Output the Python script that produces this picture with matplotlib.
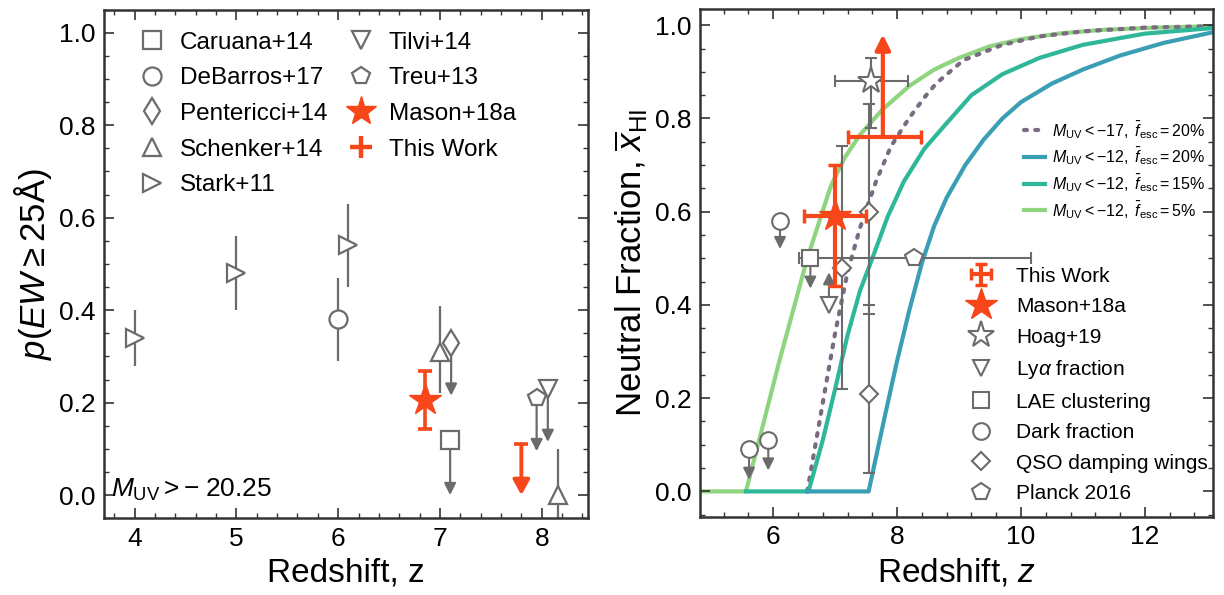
import numpy as np
import matplotlib
matplotlib.use('Agg')
import matplotlib.pyplot as plt
from matplotlib.lines import Line2D
from matplotlib.ticker import MultipleLocator

plt.rcParams['font.family'] = ['Liberation Sans', 'DejaVu Sans']
plt.rcParams['mathtext.fontset'] = 'custom'
plt.rcParams['mathtext.rm'] = 'Liberation Sans'
plt.rcParams['mathtext.it'] = 'Liberation Sans:italic'
plt.rcParams['mathtext.bf'] = 'Liberation Sans:bold'

GRAY = '#6b6b6b'
RED = '#f7461a'
C_DOT = '#7a6a82'
C_T20 = '#3a9fb4'
C_T15 = '#2fb79a'
C_T05 = '#8fd47f'

# ---------------- left panel data: p(EW>=25A) vs z ----------------
stark_z = [4.0, 5.0, 6.1]
stark_p = [0.34, 0.48, 0.54]
stark_lo = [0.06, 0.08, 0.09]
stark_hi = [0.06, 0.08, 0.09]

debarros_z = [6.0]
debarros_p = [0.38]
debarros_err = [0.09]

schenker_z = [7.0, 8.16]
schenker_p = [0.31, 0.0]
schenker_lo = [0.09, 0.10]
schenker_hi = [0.10, 0.10]

pentericci_z = [7.11]
pentericci_p = [0.33]
pentericci_tip = [0.215]

caruana_z = [7.1]
caruana_p = [0.12]
caruana_tip = [0.0]

treu_z = [7.95]
treu_p = [0.21]
treu_tip = [0.095]

tilvi_z = [8.06]
tilvi_p = [0.23]
tilvi_tip = [0.115]

mason_z = [6.85]
mason_p = [0.205]
mason_lo = [0.063]
mason_hi = [0.063]

thiswork_z = [7.8]
thiswork_lim = [0.11]
thiswork_tip = [0.0]

# ---------------- right panel data: neutral fraction vs z ----------------
curve17_f20_z = [6.55, 6.8, 7.0, 7.2, 7.4, 7.66, 7.9, 8.19, 8.44, 8.63, 9.07, 9.7, 10.3, 11.0, 12.0, 13.1]
curve17_f20_x = [0.0, 0.19, 0.34, 0.47, 0.565, 0.665, 0.74, 0.80, 0.845, 0.875, 0.925, 0.958, 0.976, 0.987, 0.995, 0.998]

curve12_f20_z = [6.55, 7.54, 7.8, 8.0, 8.2, 8.4, 8.6, 8.8, 9.1, 9.4, 9.7, 10.0, 10.5, 11.0, 11.6, 12.3, 13.1]
curve12_f20_x = [0.0, 0.0, 0.16, 0.28, 0.39, 0.49, 0.57, 0.63, 0.70, 0.755, 0.80, 0.835, 0.875, 0.905, 0.935, 0.962, 0.985]

curve12_f15_z = [5.56, 6.57, 6.8, 7.0, 7.2, 7.4, 7.6, 7.85, 8.11, 8.44, 8.8, 9.2, 9.7, 10.3, 11.0, 12.0, 13.1]
curve12_f15_x = [0.0, 0.0, 0.11, 0.22, 0.335, 0.43, 0.50, 0.59, 0.665, 0.735, 0.79, 0.85, 0.895, 0.93, 0.958, 0.982, 0.994]

curve12_f05_z = [4.82, 5.56, 6.1, 6.55, 6.93, 7.15, 7.4, 7.77, 8.2, 8.6, 9.0, 9.5, 10.0, 10.6, 11.3, 12.2, 13.1]
curve12_f05_x = [0.0, 0.0, 0.28, 0.50, 0.655, 0.715, 0.765, 0.82, 0.87, 0.905, 0.93, 0.955, 0.97, 0.982, 0.99, 0.995, 0.998]

tw_r_z = [7.77]
tw_r_x = [0.76]
tw_r_zerr_lo = [0.57]
tw_r_zerr_hi = [0.61]
tw_r_tip = [0.98]

mason_r_z = [7.0]
mason_r_x = [0.59]
mason_r_zerr = [0.5]
mason_r_lo = [0.15]
mason_r_hi = [0.11]

hoag_z = [7.58]
hoag_x = [0.88]
hoag_zerr_lo = [0.58]
hoag_zerr_hi = [0.60]
hoag_lo = [0.10]
hoag_hi = [0.05]

lya_z = [6.9]
lya_x = [0.40]
lya_tip = [0.47]

lae_z = [6.6]
lae_x = [0.50]
lae_tip = [0.435]

dark_z = [5.61, 5.92, 6.11]
dark_x = [0.09, 0.11, 0.58]
dark_tip = [0.025, 0.045, 0.52]

qso_z = [7.11, 7.54, 7.54]
qso_x = [0.48, 0.60, 0.21]
qso_lo = [0.26, 0.22, 0.17]
qso_hi = [0.26, 0.23, 0.19]

planck_z = [8.27]
planck_x = [0.50]
planck_zerr_lo = [1.86]
planck_zerr_hi = [1.89]


def arrow(ax, x, y0, y1, color, lw, hl=0.7, hw=0.35, z=2):
    ax.annotate('', xy=(x, y1), xytext=(x, y0),
                arrowprops=dict(arrowstyle=f'-|>,head_length={hl},head_width={hw}',
                                color=color, lw=lw, shrinkA=0, shrinkB=0,
                                mutation_scale=10),
                zorder=z)


def style_axes(ax, xminor, yminor):
    ax.tick_params(which='both', direction='in', top=True, right=True,
                   labelsize=19, color='#333333')
    ax.tick_params(which='major', length=7, width=1.2, pad=6)
    ax.tick_params(which='minor', length=3.5, width=1.0)
    ax.xaxis.set_minor_locator(MultipleLocator(xminor))
    ax.yaxis.set_minor_locator(MultipleLocator(yminor))
    for s in ax.spines.values():
        s.set_linewidth(1.8)
        s.set_color('#333333')


fig = plt.figure(figsize=(12.24, 5.95), dpi=100)
axL = fig.add_axes([0.085, 0.129, 0.395, 0.855])
axR = fig.add_axes([0.572, 0.131, 0.419, 0.854])

# ---------------- left panel ----------------
ms = 13
mk = dict(color=GRAY, mfc='white', mec=GRAY, mew=1.6, ms=ms, ls='none', zorder=3)
ek = dict(fmt='none', ecolor=GRAY, elinewidth=1.6, capsize=0, zorder=2)

axL.errorbar(stark_z, stark_p, yerr=[stark_lo, stark_hi], **ek)
axL.plot(stark_z, stark_p, marker='>', **mk)

axL.errorbar(debarros_z, debarros_p, yerr=[debarros_err, debarros_err], **ek)
axL.plot(debarros_z, debarros_p, marker='o', **mk)

axL.errorbar(schenker_z, schenker_p, yerr=[schenker_lo, schenker_hi], **ek)
axL.plot(schenker_z, schenker_p, marker='^', **mk)

for z, p, t in zip(pentericci_z, pentericci_p, pentericci_tip):
    arrow(axL, z, p, t, GRAY, 1.6)
axL.plot(pentericci_z, pentericci_p, marker='d', **mk)

for z, p, t in zip(caruana_z, caruana_p, caruana_tip):
    arrow(axL, z, p, t, GRAY, 1.6)
axL.plot(caruana_z, caruana_p, marker='s', **mk)

for z, p, t in zip(treu_z, treu_p, treu_tip):
    arrow(axL, z, p, t, GRAY, 1.6)
axL.plot(treu_z, treu_p, marker='p', **mk)

for z, p, t in zip(tilvi_z, tilvi_p, tilvi_tip):
    arrow(axL, z, p, t, GRAY, 1.6)
axL.plot(tilvi_z, tilvi_p, marker='v', **mk)

axL.errorbar(mason_z, mason_p, yerr=[mason_lo, mason_hi], fmt='none', ecolor=RED,
             elinewidth=2.6, capsize=5, capthick=2.6, zorder=4)
axL.plot(mason_z, mason_p, marker='*', color=RED, ms=24, ls='none', mec=RED, zorder=5)

for z, p, t in zip(thiswork_z, thiswork_lim, thiswork_tip):
    arrow(axL, z, p, t, RED, 2.8, hl=0.9, hw=0.5, z=5)
axL.plot(thiswork_z, thiswork_lim, marker='_', color=RED, ms=10, mew=2.6, ls='none', zorder=5)

axL.text(3.77, -0.003, r'$M_{\rm UV} > -\;20.25$', fontsize=19, va='baseline', ha='left')

axL.set_xlim(3.7, 8.45)
axL.set_ylim(-0.05, 1.05)
axL.set_xticks([4, 5, 6, 7, 8])
axL.set_yticks([0.0, 0.2, 0.4, 0.6, 0.8, 1.0])
style_axes(axL, 0.2, 0.05)
axL.set_xlabel('Redshift, z', fontsize=24, labelpad=5)
axL.set_ylabel(r'$p(EW \geq 25\mathrm{Å})$', fontsize=25, labelpad=4)

lk = dict(color=GRAY, mfc='white', mec=GRAY, mew=1.6, ms=ms, ls='none')
handlesL = [
    Line2D([], [], marker='s', **lk),
    Line2D([], [], marker='o', **lk),
    Line2D([], [], marker='d', **lk),
    Line2D([], [], marker='^', **lk),
    Line2D([], [], marker='>', **lk),
    Line2D([], [], marker='v', **lk),
    Line2D([], [], marker='p', **lk),
    Line2D([], [], marker='*', color=RED, ms=22, ls='none'),
    Line2D([], [], marker='+', color=RED, ms=16, mew=3.2, ls='none'),
]
labelsL = ['Caruana+14', 'DeBarros+17', 'Pentericci+14', 'Schenker+14', 'Stark+11',
           'Tilvi+14', 'Treu+13', 'Mason+18a', 'This Work']
axL.legend(handlesL, labelsL, ncol=2, loc='upper left', bbox_to_anchor=(0.043, 0.985),
           frameon=False, fontsize=17.5, handlelength=1.0, handletextpad=0.65,
           columnspacing=0.9, labelspacing=0.56, borderaxespad=0.2)

# ---------------- right panel ----------------
l4, = axR.plot(curve12_f05_z, curve12_f05_x, color=C_T05, lw=3, zorder=1)
l1, = axR.plot(curve17_f20_z, curve17_f20_x, color=C_DOT, lw=3, ls=(0, (0.7, 2.0)),
               dash_capstyle='round', zorder=1)
l3, = axR.plot(curve12_f15_z, curve12_f15_x, color=C_T15, lw=3, zorder=1)
l2, = axR.plot(curve12_f20_z, curve12_f20_x, color=C_T20, lw=3, zorder=1)

mr = 12
mkr = dict(color=GRAY, mfc='white', mec=GRAY, mew=1.5, ls='none', zorder=3)
ekr = dict(fmt='none', ecolor=GRAY, elinewidth=1.5, capsize=4, capthick=1.5, zorder=2)

axR.errorbar(planck_z, planck_x, xerr=[planck_zerr_lo, planck_zerr_hi], **ekr)
axR.plot(planck_z, planck_x, marker='p', ms=mr + 1, **mkr)

axR.errorbar(qso_z, qso_x, yerr=[qso_lo, qso_hi], **ekr)
axR.plot(qso_z, qso_x, marker='D', ms=mr - 3, **mkr)

for z, x, t in zip(dark_z, dark_x, dark_tip):
    arrow(axR, z, x, t, GRAY, 1.5)
axR.plot(dark_z, dark_x, marker='o', ms=mr, **mkr)

for z, x, t in zip(lae_z, lae_x, lae_tip):
    arrow(axR, z, x, t, GRAY, 1.5)
axR.plot(lae_z, lae_x, marker='s', ms=mr, **mkr)

for z, x, t in zip(lya_z, lya_x, lya_tip):
    arrow(axR, z, x, t, GRAY, 1.5)
axR.plot(lya_z, lya_x, marker='v', ms=mr, **mkr)

axR.errorbar(hoag_z, hoag_x, xerr=[hoag_zerr_lo, hoag_zerr_hi], yerr=[hoag_lo, hoag_hi], **ekr)
axR.plot(hoag_z, hoag_x, marker='*', ms=mr + 8, **mkr)

axR.errorbar(mason_r_z, mason_r_x, xerr=[mason_r_zerr, mason_r_zerr], yerr=[mason_r_lo, mason_r_hi],
             fmt='none', ecolor=RED, elinewidth=3, capsize=5, capthick=2.5, zorder=5)
axR.plot(mason_r_z, mason_r_x, marker='*', color=RED, ms=24, ls='none', zorder=6)

axR.errorbar(tw_r_z, tw_r_x, xerr=[tw_r_zerr_lo, tw_r_zerr_hi], fmt='none', ecolor=RED,
             elinewidth=3, capsize=5, capthick=2.5, zorder=5)
for z, x, t in zip(tw_r_z, tw_r_x, tw_r_tip):
    arrow(axR, z, x, t, RED, 3, hl=0.9, hw=0.45, z=5)

axR.set_xlim(4.82, 13.1)
axR.set_ylim(-0.055, 1.035)
axR.set_xticks([6, 8, 10, 12])
axR.set_yticks([0.0, 0.2, 0.4, 0.6, 0.8, 1.0])
style_axes(axR, 0.4, 0.05)
axR.set_xlabel('Redshift, $z$', fontsize=24, labelpad=5)
axR.set_ylabel(r'Neutral Fraction, $\overline{x}_{\rm HI}$', fontsize=25, labelpad=4)

leg1 = axR.legend([l1, l2, l3, l4],
                  [r'$M_{\rm UV} < -17,\ \bar{f}_{\rm esc} = 20\%$',
                   r'$M_{\rm UV} < -12,\ \bar{f}_{\rm esc} = 20\%$',
                   r'$M_{\rm UV} < -12,\ \bar{f}_{\rm esc} = 15\%$',
                   r'$M_{\rm UV} < -12,\ \bar{f}_{\rm esc} = 5\%$'],
                  loc='upper left', bbox_to_anchor=(0.62, 0.796), frameon=False,
                  fontsize=11.5, handlelength=1.3, handletextpad=0.4, labelspacing=0.3,
                  borderaxespad=0.0)
axR.add_artist(leg1)

tw_handle = axR.errorbar([np.nan], [np.nan], xerr=[1], yerr=[1], fmt='none', ecolor=RED,
                         elinewidth=3, capsize=4, capthick=2.5)
lkr = dict(color=GRAY, mfc='white', mec=GRAY, mew=1.5, ls='none')
handlesR = [
    tw_handle,
    Line2D([], [], marker='*', color=RED, ms=24, ls='none'),
    Line2D([], [], marker='*', ms=20, **lkr),
    Line2D([], [], marker='v', ms=mr, **lkr),
    Line2D([], [], marker='s', ms=mr, **lkr),
    Line2D([], [], marker='o', ms=mr, **lkr),
    Line2D([], [], marker='D', ms=mr - 3, **lkr),
    Line2D([], [], marker='p', ms=mr + 1, **lkr),
]
labelsR = ['This Work', 'Mason+18a', 'Hoag+19', r'Ly$\alpha$ fraction', 'LAE clustering',
           'Dark fraction', 'QSO damping wings', 'Planck 2016']
axR.legend(handlesR, labelsR, loc='upper left', bbox_to_anchor=(0.507, 0.509), frameon=False,
           fontsize=15, handlelength=1.2, handletextpad=1.1, labelspacing=0.55,
           borderaxespad=0.0)

fig.savefig('out.png', dpi=100)
